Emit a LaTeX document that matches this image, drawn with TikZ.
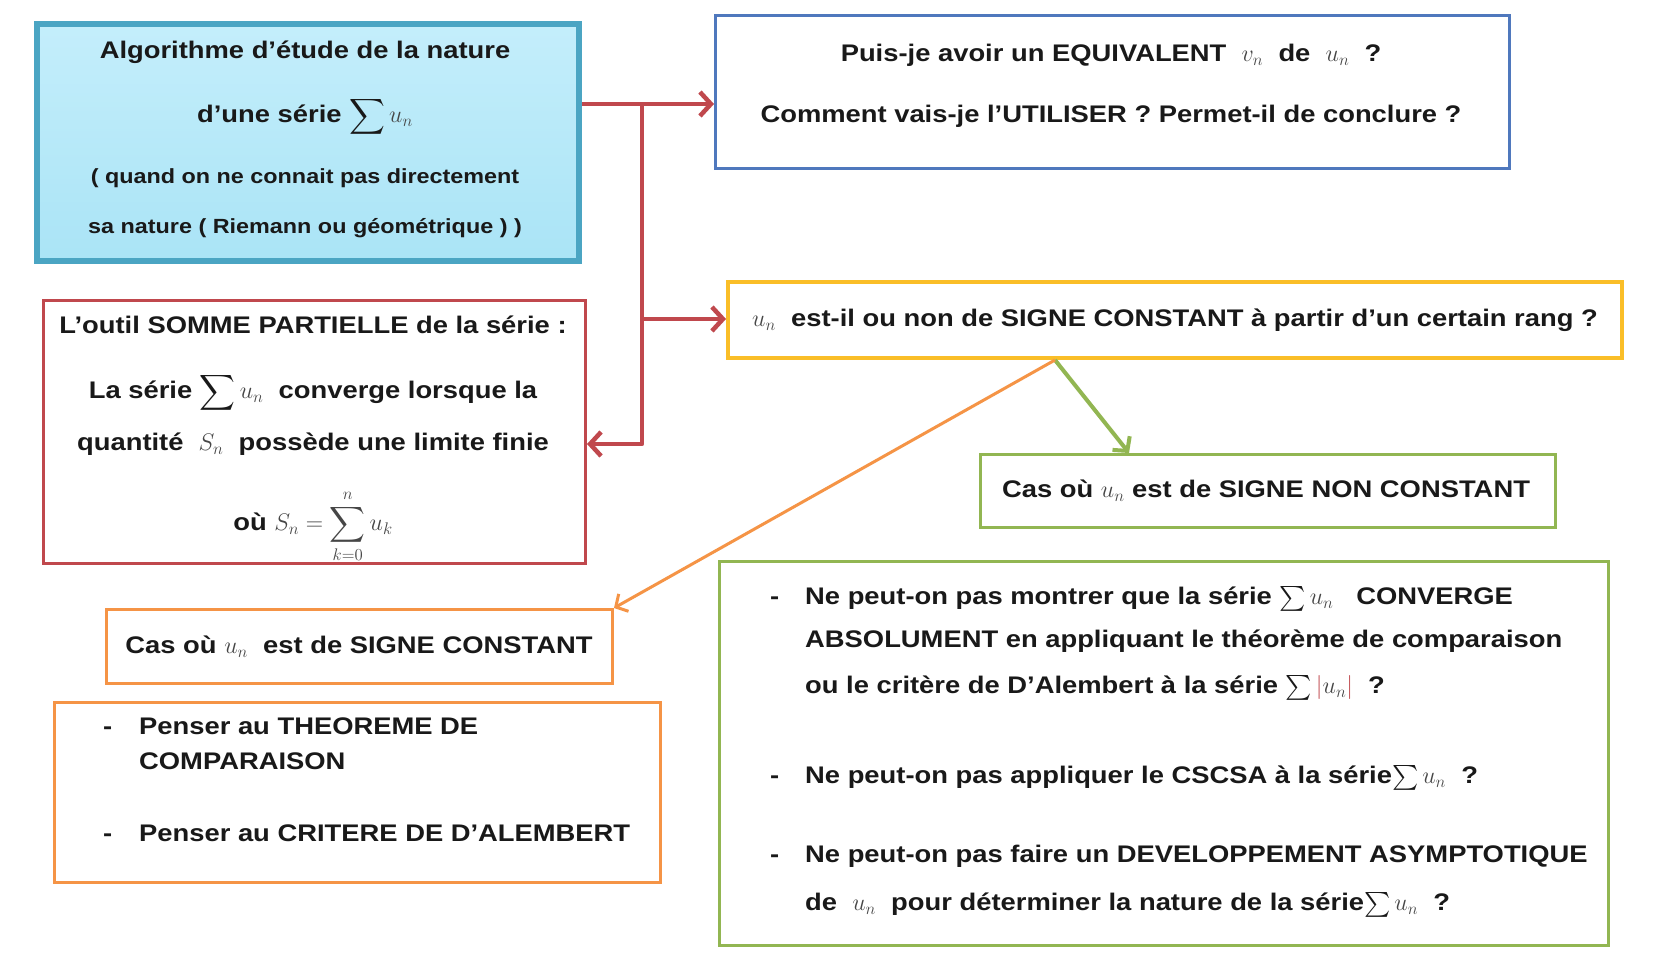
\RequirePackage{fix-cm}
\documentclass[tikz,border=0pt]{standalone}
\usepackage{exscale}
\usepackage{fontspec}
\setmainfont{Liberation Sans}[FakeStretch=1.14]
\usetikzlibrary{arrows.meta,calc}
\definecolor{cTeal}{RGB}{75,165,195}
\definecolor{cFillTop}{RGB}{196,238,251}
\definecolor{cFillBot}{RGB}{170,228,246}
\definecolor{cBlue}{RGB}{79,120,189}
\definecolor{cRed}{RGB}{192,72,77}
\definecolor{cGold}{RGB}{250,190,40}
\definecolor{cGreen}{RGB}{146,182,82}
\definecolor{cOrange}{RGB}{245,148,70}
\definecolor{cText}{RGB}{25,25,25}
\definecolor{cMath}{RGB}{70,70,70}
\newcommand{\mun}{\textcolor{cMath}{u_n}}
\begin{document}
\begin{tikzpicture}[x=1pt,y=-1pt,
  txt/.style={font=\fontsize{24}{29}\selectfont\bfseries, text=cText, text height=17pt, text depth=6pt, inner sep=0pt, yshift=-3pt},
  sm/.style={font=\fontsize{20.5}{25}\selectfont\bfseries, text=cText, text height=15pt, text depth=5pt, inner sep=0pt, yshift=-3pt},
  box/.style={draw, line width=3pt, inner sep=0pt, anchor=north west},
  redarrow/.style={draw=cRed, line width=4.5pt, line join=round, -{Straight Barb[length=11pt,width=24pt]}},
  greenarrow/.style={draw=cGreen, line width=4pt, -{Straight Barb[length=10pt,width=22pt]}},
  orangearrow/.style={draw=cOrange, line width=3pt, -{Straight Barb[length=9pt,width=20pt]}},
]
\useasboundingbox (0,0) rectangle (1653,958);
\fill[white] (0,0) rectangle (1653,958);

% boxes
\node[box, draw=cTeal, line width=6pt, top color=cFillTop, bottom color=cFillBot, minimum width=542pt, minimum height=237pt] (A) at (34,21) {};
\node[box, draw=cBlue, minimum width=794pt, minimum height=153pt] (B) at (714,14) {};
\node[box, draw=cRed, minimum width=542pt, minimum height=263pt] (C) at (42,299) {};
\node[box, draw=cGold, line width=4pt, minimum width=894pt, minimum height=76pt] (D) at (726,280) {};
\node[box, draw=cGreen, minimum width=575pt, minimum height=73pt] (E) at (979,453) {};
\node[box, draw=cOrange, minimum width=506pt, minimum height=74pt] (F) at (105,608) {};
\node[box, draw=cOrange, minimum width=606pt, minimum height=180pt] (G) at (53,701) {};
\node[box, draw=cGreen, minimum width=889pt, minimum height=384pt] (H) at (718,560) {};

% box A text
\node[txt] (A1) at (305,50) {Algorithme d’étude de la nature};
\node[txt] (A2) at (305,114) {d’une série $\displaystyle\sum \mun$};
\node[sm] (A3) at (305,175) {( quand on ne connait pas directement};
\node[sm] (A4) at (305,225) {sa nature ( Riemann ou géométrique ) )};

% box B text
\node[txt] (B1) at (1111,53) {Puis-je avoir un EQUIVALENT\ \ $\textcolor{cMath}{v_n}$\ \ de\ \ $\mun$\ \ ?};
\node[txt] (B2) at (1111,114) {Comment vais-je l’UTILISER ? Permet-il de conclure ?};

% box C text
\node[txt] (C1) at (313,325) {L’outil SOMME PARTIELLE de la série :};
\node[txt] (C2) at (313,390) {La série $\displaystyle\sum \mun$\ \ converge lorsque la};
\node[txt] (C3) at (313,442) {quantité\ \ $\textcolor{cMath}{S_n}$\ \ possède une limite finie};
\node[txt] (C4) at (313,522) {où $\textcolor{cMath}{S_n=\displaystyle\sum_{k=0}^{n}u_k}$};

% box D, E, F text
\node[txt] (D1) at (1175,318) {$\mun$\ \ est-il ou non de SIGNE CONSTANT à partir d’un certain rang ?};
\node[txt] (E1) at (1266,489) {Cas où\ $\mun$\ est de SIGNE NON CONSTANT};
\node[txt] (F1) at (359,645) {Cas où\ $\mun$\ \ est de SIGNE CONSTANT};

% box G text
\node[txt, anchor=west] (Gd1) at (103,726) {-};
\node[txt, anchor=west] (G1) at (139,726) {Penser au THEOREME DE};
\node[txt, anchor=west] (G2) at (139,761) {COMPARAISON};
\node[txt, anchor=west] (Gd2) at (103,833) {-};
\node[txt, anchor=west] (G3) at (139,833) {Penser au CRITERE DE D’ALEMBERT};

% box H text
\node[txt, anchor=west] (Hd1) at (770,596) {-};
\node[txt, anchor=west] (H1) at (805,596) {Ne peut-on pas montrer que la série $\sum \mun$\ \ \ CONVERGE};
\node[txt, anchor=west] (H2) at (805,639) {ABSOLUMENT en appliquant le théorème de comparaison};
\node[txt, anchor=west] (H3) at (805,685) {ou le critère de D’Alembert à la série\ $\sum{\color{cRed}|}\mun{\color{cRed}|}$\ \ ?};
\node[txt, anchor=west] (Hd2) at (770,775) {-};
\node[txt, anchor=west] (H4) at (805,775) {Ne peut-on pas appliquer le CSCSA à la série$\sum \mun$\ \ ?};
\node[txt, anchor=west] (Hd3) at (770,854) {-};
\node[txt, anchor=west] (H5) at (805,854) {Ne peut-on pas faire un DEVELOPPEMENT ASYMPTOTIQUE};
\node[txt, anchor=west] (H6) at (805,902) {de\ \ $\mun$\ \ pour déterminer la nature de la série$\sum \mun$\ \ ?};

% connectors
\coordinate (j1) at (642,104);
\coordinate (j2) at (642,319);
\coordinate (j3) at (642,444);
\draw[redarrow] (A.east |- j1) -- (B.west |- j1);
\draw[redarrow] (j1) -- (j3) -- (C.east |- j3);
\draw[redarrow] (j2) -- (D.west |- j2);
\coordinate (o) at ($(D.south west)+(329,0)$);
\coordinate (eN) at ($(E.north west)+(150,0)$);
\draw[greenarrow] (o) -- (eN);
\draw[orangearrow] (o) -- (F.north east);
\end{tikzpicture}
\end{document}
